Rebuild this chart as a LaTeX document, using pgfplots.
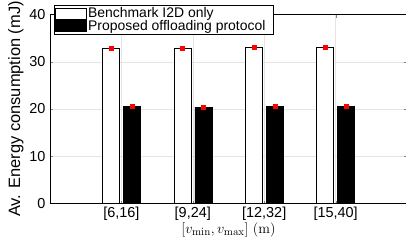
\documentclass[border=0pt]{standalone}
\usepackage[no-math]{fontspec}
\setmainfont{Liberation Sans}
\usepackage{pgfplots}
\pgfplotsset{compat=1.18}
\begin{document}
\begin{tikzpicture}
\path[use as bounding box] (-50bp,-41.5bp) rectangle (356bp,203.5bp);
\begin{axis}[
  scale only axis, width=357bp, height=189bp,
  xmin=0, xmax=5, ymin=0, ymax=40,
  xtick={1,2,3,4},
  xticklabels={{[6,16]},{[9,24]},{[12,32]},{[15,40]}},
  ytick={0,10,20,30,40},
  tick align=inside, major tick length=3bp,
  grid=major, major grid style={gray!20},
  /pgf/number format/assume math mode=true,
  tick label style={font=\fontsize{14.5}{15}\selectfont},
  yticklabel style={xshift=-1bp},
  xlabel={$[v_{\min}, v_{\max}]~(\mathrm{m})$},
  xlabel style={font=\fontsize{15.5}{16}\selectfont, yshift=5bp},
  ylabel={Av. Energy consumption (mJ)},
  ylabel style={font=\fontsize{16.5}{17}\selectfont, yshift=-1bp},
  legend style={at={(0.0112,1.0503)}, anchor=north west, draw=black,
    font=\fontsize{14}{14}\selectfont, inner sep=0.5bp, row sep=-3bp,
    cells={anchor=west}},
  axis line style={black},
]
\addplot[ybar, bar width=17bp, bar shift=-10.5bp, draw=black, fill=white,
  legend image code/.code={\draw[draw=black,fill=white] (0bp,-5.5bp) rectangle (31bp,5.5bp);}]
  coordinates {(1,32.85) (2,32.95) (3,33.05) (4,33.05)};
\addlegendentry{\makebox[183bp][l]{Benchmark I2D only}}
\addplot[ybar, bar width=17bp, bar shift=10.5bp, draw=black, fill=black,
  legend image code/.code={\draw[draw=black,fill=black] (0bp,-5.5bp) rectangle (31bp,5.5bp);}]
  coordinates {(1,20.5) (2,20.35) (3,20.6) (4,20.55)};
\addlegendentry{\makebox[183bp][l]{Proposed offloading protocol}}
\addplot[only marks, mark=square*, red, mark size=2bp, mark options={xshift=-10.5bp}, forget plot]
  coordinates {(1,32.85) (2,32.95) (3,33.05) (4,33.05)};
\addplot[only marks, mark=square*, red, mark size=2bp, mark options={xshift=10.5bp}, forget plot]
  coordinates {(1,20.5) (2,20.35) (3,20.6) (4,20.55)};
\end{axis}
\end{tikzpicture}
\end{document}
